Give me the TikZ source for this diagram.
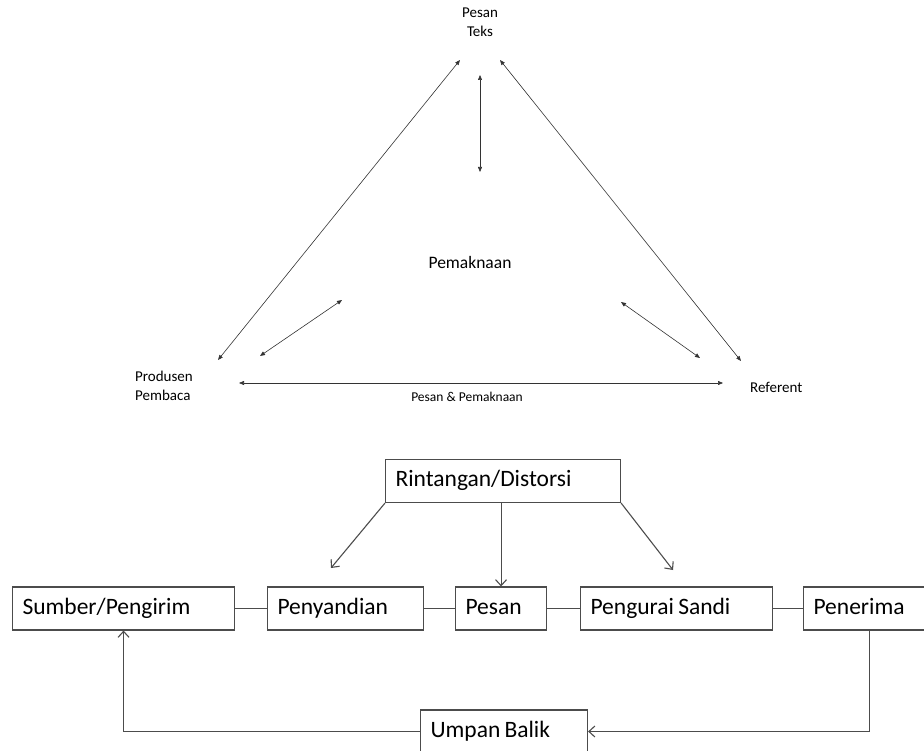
\documentclass[tikz,border=0pt]{standalone}
\usepackage{fontspec}
\setmainfont{Carlito}
\usetikzlibrary{arrows.meta}

\begin{document}
\begin{tikzpicture}[x=1pt, y=-1pt,
    every node/.style={inner sep=0pt},
    corner/.style={font=\fontsize{15}{19.5}\selectfont},
    dbl/.style={{Triangle[length=5pt,width=4pt]}-{Triangle[length=5pt,width=4pt]}, line width=0.6pt, black!80},
    stage/.style={draw=black!70, line width=1.1pt, anchor=west, minimum height=43pt,
        inner xsep=10pt, align=left, text height=16pt, text depth=5pt,
        font=\fontsize{23.5}{26}\selectfont,
        execute at begin node={\spaceskip=0.18em\relax}},
    link/.style={draw=black!70, line width=1.1pt},
    hit/.style={link, -{Straight Barb[length=6pt,width=11pt]}}]
    \useasboundingbox (0,0) rectangle (924,751);

    % segitiga pemaknaan
    \node[corner, align=center] (teks) at (480,22) {Pesan\\Teks};
    \node[font=\fontsize{17.5}{20}\selectfont] (makna) at (470,262) {Pemaknaan};
    \node[corner, anchor=west, align=left] (prod) at (135,386) {Produsen\\Pembaca};
    \node[corner, anchor=west] (ref) at (750,387) {Referent};
    \node[font=\fontsize{13.5}{16}\selectfont] (pp) at (467,397) {Pesan \& Pemaknaan};

    \coordinate (tl) at (460,60);
    \coordinate (tr) at (500,60);
    \coordinate (bl) at (218,360);
    \coordinate (br) at (741,361);
    \coordinate (vt) at (480,75);
    \coordinate (vb) at (480,172);
    \coordinate (il) at (342,300);
    \coordinate (ol) at (260,356);
    \coordinate (ir) at (621,302);
    \coordinate (or) at (700,358);
    \coordinate (hl) at (239,383);
    \coordinate (hr) at (723,383);

    \draw[dbl] (tl) -- (bl);
    \draw[dbl] (tr) -- (br);
    \draw[dbl] (vt) -- (vb);
    \draw[dbl] (il) -- (ol);
    \draw[dbl] (ir) -- (or);
    \draw[dbl] (hl) -- (hr);

    % model komunikasi
    \node[stage, text width=215pt] (rint) at (385,481) {Rintangan/Distorsi};
    \node[stage, text width=202pt] (sumber) at (12,608.5) {Sumber/Pengirim};
    \node[stage, text width=136pt] (sandi) at (267,608.5) {Penyandian};
    \node[stage, text width=71pt] (pesan) at (455,608.5) {Pesan};
    \node[stage, text width=172pt] (urai) at (580,608.5) {Pengurai Sandi};
    \node[stage, text width=112pt] (terima) at (803,608.5) {Penerima};
    \node[stage, text width=147pt] (balik) at (420,731.5) {Umpan Balik};

    \coordinate (kiri) at (331,568);
    \coordinate (kanan) at (673,570);

    \draw[link] (sumber) -- (sandi);
    \draw[link] (sandi) -- (pesan);
    \draw[link] (pesan) -- (urai);
    \draw[link] (urai) -- (terima);

    \draw[hit] (rint.south west) -- (kiri);
    \draw[hit] (pesan.north |- rint.south) -- (pesan.north);
    \draw[hit] (rint.south east) -- (kanan);

    \draw[hit] (terima.south) |- (balik.east);
    \draw[hit] (balik.west) -| (sumber.south);
\end{tikzpicture}
\end{document}
